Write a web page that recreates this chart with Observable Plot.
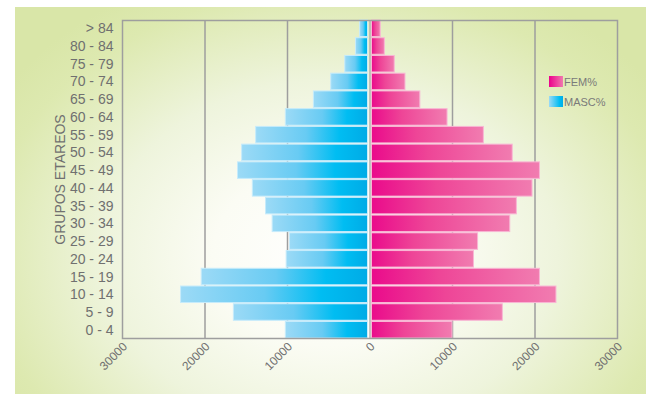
<!DOCTYPE html>
<html>
<head>
<meta charset="utf-8">
<script src="https://cdn.jsdelivr.net/npm/d3@7"></script>
<script src="https://cdn.jsdelivr.net/npm/@observablehq/plot@0.6"></script>
<style>
  html, body { margin: 0; padding: 0; background: #fff; }
  #panel {
    position: relative;
    margin: 7px 0 0 15px;
    width: 631px;
    height: 387px;
    background: radial-gradient(ellipse 62% 78% at 50% 64%, #ffffff 0%, #fbfcf4 30%, #eef4dc 58%, #dde9b0 88%, #d9e6a8 100%);
    font-family: "Liberation Sans", Arial, sans-serif;
  }
  #legend { position: absolute; left: 534px; top: 69px; font-size: 11px; color: #7a7a7a; z-index: 2; }
  #legend div { display: flex; align-items: center; height: 11px; margin-bottom: 9px; }
  #legend span.sw { width: 14px; height: 11px; margin-right: 1px; }
</style>
</head>
<body>
<div id="panel">
  <div id="legend">
    <div><span class="sw" style="background: linear-gradient(90deg, #ec008c, #f07aae);"></span>FEM%</div>
    <div><span class="sw" style="background: linear-gradient(90deg, #9cdaf6, #00bdf2 75%, #00ace6);"></span>MASC%</div>
  </div>
</div>
<script>
// Age groups, top to bottom
const groups = ["> 84", "80 - 84", "75 - 79", "70 - 74", "65 - 69", "60 - 64", "55 - 59", "50 - 54", "45 - 49",
  "40 - 44", "35 - 39", "30 - 34", "25 - 29", "20 - 24", "15 - 19", "10 - 14", "5 - 9", "0 - 4"];
// Population per age group
const masc = [1200, 1700, 3000, 4700, 6800, 10200, 13800, 15500, 16000, 14200, 12600, 11800, 9700, 10100, 20400, 22900, 16500, 10200];
const fem = [1300, 1800, 3000, 4300, 6100, 9400, 13800, 17300, 20600, 19700, 17800, 17000, 13100, 12600, 20600, 22600, 16100, 10000];
const xTicks = [-30000, -20000, -10000, 0, 10000, 20000, 30000];
const gridTicks = [-20000, -10000, 10000, 20000];

const rows = groups.map((g, i) => ({group: g, masc: masc[i], fem: fem[i]}));

const chart = Plot.plot({
  width: 631,
  height: 387,
  marginLeft: 107,
  marginTop: 13,
  marginRight: 29,
  marginBottom: 56,
  style: {background: "none", fontFamily: "'Liberation Sans', Arial, sans-serif", fontSize: "14px", color: "#707070", overflow: "visible"},
  x: {domain: [-30000, 30000], ticks: xTicks, tickFormat: d => String(Math.abs(d)), tickRotate: -45, tickSize: 0, tickPadding: 9, label: null},
  y: {domain: groups, paddingInner: 0.07, paddingOuter: 0, round: false, tickSize: 0, tickPadding: 9, label: null},
  marks: [
    Plot.ruleX(gridTicks, {stroke: "#9e9e9e", strokeWidth: 1.5}),
    Plot.barX(rows, {y: "group", x1: d => -d.masc, x2: 0, insetRight: 2, fill: "url(#gradMasc)", stroke: "#c6ebfb", strokeWidth: 1}),
    Plot.barX(rows, {y: "group", x1: 0, x2: "fem", insetLeft: 2, fill: "url(#gradFem)", stroke: "#f8b6d4", strokeWidth: 1}),
    Plot.ruleX([0], {stroke: "#b0b0b0", strokeWidth: 1.5}),
    Plot.frame({stroke: "#9e9e9e", strokeWidth: 1.5}),
    Plot.text(["GRUPOS ETAREOS"], {frameAnchor: "left", dx: -62, rotate: -90, textAnchor: "middle", fontSize: 14, fill: "#707070"})
  ]
});

// Bar gradients, each relative to its own bar
const ns = "http://www.w3.org/2000/svg";
const defs = document.createElementNS(ns, "defs");
function gradient(id, stops) {
  const g = document.createElementNS(ns, "linearGradient");
  g.setAttribute("id", id);
  g.setAttribute("x1", "0"); g.setAttribute("x2", "1"); g.setAttribute("y1", "0"); g.setAttribute("y2", "0");
  for (const [o, c] of stops) {
    const s = document.createElementNS(ns, "stop");
    s.setAttribute("offset", o);
    s.setAttribute("stop-color", c);
    g.appendChild(s);
  }
  defs.appendChild(g);
}
gradient("gradMasc", [[0, "#9cdaf6"], [0.45, "#68cbf3"], [0.75, "#00bdf2"], [1, "#00abe6"]]);
gradient("gradFem", [[0, "#ea0b8b"], [0.4, "#ee4597"], [1, "#f17cb0"]]);
chart.insertBefore(defs, chart.firstChild);

// smaller x tick labels, nudged right of their ticks
d3.select(chart).selectAll('g[aria-label^="x-axis"] text').attr("font-size", 12).attr("dx", 4);

chart.style.position = "absolute";
chart.style.left = "0";
chart.style.top = "0";
document.getElementById("panel").insertBefore(chart, document.getElementById("legend"));
</script>
</body>
</html>
